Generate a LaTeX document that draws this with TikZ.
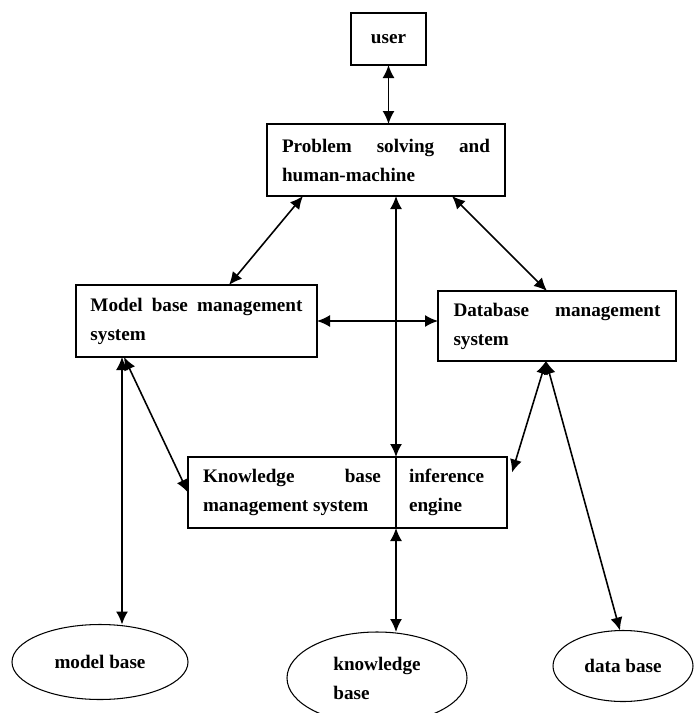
\documentclass[tikz,border=0pt]{standalone}
\usepackage{fontspec}
\setmainfont{Liberation Serif}
\usetikzlibrary{shapes.geometric,arrows.meta}

\begin{document}
\begin{tikzpicture}[
        font=\bfseries\fontsize{10.9}{16.5}\selectfont,
        box/.style={draw, line width=0.6pt, outer sep=0pt, inner ysep=0pt, align=justify},
        oval/.style={draw, ellipse, line width=0.6pt, outer sep=0pt, inner sep=0pt, align=left},
        link/.style={{Latex[length=2.6mm,width=2.4mm]}-{Latex[length=2.6mm,width=2.4mm]}, line width=0.9pt}
    ]
        \useasboundingbox (0,0) rectangle (13.88,-14.26);
        % boxes
        \node[box, inner xsep=0pt, minimum width=1.5cm, minimum height=1.04cm] (user) at (7.77,-0.78) {user};
        \node[box, text width=4.16cm, inner xsep=0.3cm, minimum height=1.44cm] (prob) at (7.72,-3.20) {Problem\hfill solving\hfill and\\human-machine};
        \node[box, text width=4.24cm, inner xsep=0.29cm, minimum height=1.44cm] (model) at (3.93,-6.42) {Model\hfill base\hfill management\\system};
        \node[box, text width=4.14cm, inner xsep=0.31cm, minimum height=1.40cm] (db) at (11.14,-6.52) {Database\hfill management\\system};
        \node[box, text width=3.56cm, inner xsep=0.3cm, minimum height=1.42cm] (kbms) at (5.84,-9.85) {Knowledge\hfill base\\management system};
        \node[box, text width=1.7cm, inner xsep=0.26cm, minimum height=1.42cm, anchor=west] (inf) at (kbms.east) {inference\\engine};
        % stores
        \node[oval, minimum width=3.52cm, minimum height=1.5cm] (mbase) at (2.0,-13.24) {model base};
        \node[oval, minimum width=3.6cm, minimum height=1.84cm] (kbase) at (7.54,-13.56) {knowledge\\base};
        \node[oval, minimum width=2.8cm, minimum height=1.42cm] (dbase) at (12.46,-13.32) {data base};
        % links
        \draw[link] (user.south) -- (user.south |- prob.north);
        \draw[link] ([xshift=0.72cm]prob.south west) -- ([xshift=3.06cm]model.north west);
        \draw[link] ([xshift=-1.06cm]prob.south east) -- ([xshift=2.18cm]db.north west);
        \draw[link] (kbms.north east |- prob.south) -- (kbms.north east);
        \draw[link] (model.east) -- (model.east -| db.west);
        \draw[link] ([xshift=0.92cm]model.south west) -- ([xshift=0.92cm]model.south west |- mbase.north);
        \draw[link] ([xshift=0.96cm]model.south west) -- (kbms.west);
        \draw[link] ([xshift=2.16cm]db.south west) -- ([xshift=0.1cm,yshift=0.4cm]inf.east);
        \draw[link] ([xshift=2.16cm]db.south west) -- ([xshift=-0.06cm]dbase.north);
        \draw[link] (kbms.south east) -- (kbms.south east |- kbase.north);
\end{tikzpicture}
\end{document}
